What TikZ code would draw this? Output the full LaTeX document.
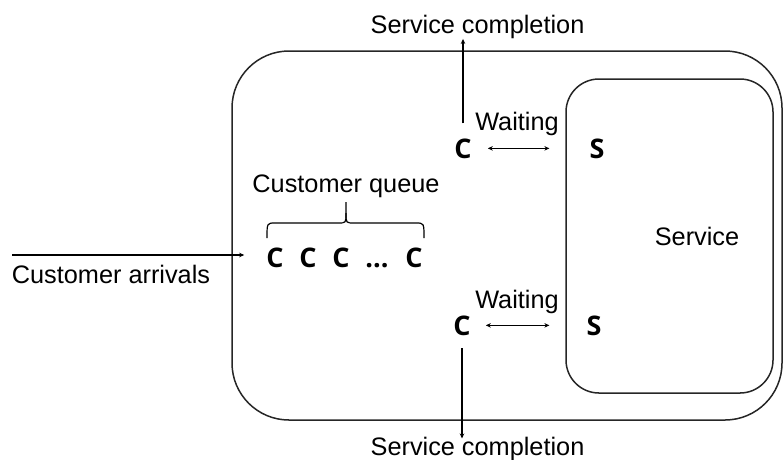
\documentclass[tikz,border=0pt]{standalone}
\usepackage{fontspec}
\setmainfont{Liberation Sans}
\newfontfamily\cfont{Open Sans}
\usetikzlibrary{arrows.meta}
\tikzset{
  lbl/.style={font=\fontsize{25.3}{30}\selectfont, inner sep=0pt, anchor=base},
  letter/.style={font=\cfont\bfseries\fontsize{27}{32}\selectfont, inner sep=0pt, anchor=base},
  arr/.style={-{Stealth[length=5pt,width=4.5pt]}, line width=1.2pt},
  darr/.style={{Stealth[length=5pt,width=4.5pt]}-{Stealth[length=5pt,width=4.5pt]}, line width=1.2pt},
  frame/.style={line width=1.5pt, draw=black!85}
}
\begin{document}
\begin{tikzpicture}[x=1pt,y=-1pt]
\useasboundingbox (0,0) rectangle (783,459);
% boxes
\draw[frame, rounded corners=57pt] (232,51) rectangle (782,420);
\draw[frame, rounded corners=33pt] (566,79) rectangle (773,393);
% labels
\node[lbl] (sc1) at (477.5,33.5) {Service completion};
\node[lbl] (sc2) at (477.5,455) {Service completion};
\node[lbl] (arrl) at (111,283) {Customer arrivals};
\node[lbl] (cq) at (346,192) {Customer queue};
\node[lbl] (w1) at (517,130) {Waiting};
\node[lbl] (w2) at (517,308) {Waiting};
\node[lbl] (srv) at (697,245) {Service};
% letters
\node[letter] (q1) at (275,267) {C};
\node[letter] (q2) at (308,267) {C};
\node[letter] (q3) at (341,267) {C};
\node[letter] (qd) at (377,267) {...};
\node[letter] (q4) at (414,267) {C};
\node[letter] (c1) at (463,158) {C};
\node[letter] (s1) at (597,158) {S};
\node[letter] (c2) at (462,335) {C};
\node[letter] (s2) at (594,335) {S};
% brace
\draw[line width=1.2pt] (267,238) .. controls (267,223) .. (275,223) -- (338,223)
  .. controls (346,223) .. (346,213) -- (346,202);
\draw[line width=1.2pt] (346,213) .. controls (346,223) .. (354,223) -- (416,223)
  .. controls (424,223) .. (424,238);
% connectors
\coordinate (arrStart) at (12,255);
\draw[arr, shorten >=22pt] (arrStart) -- (arrStart -| q1.west);
\draw[arr, shorten <=15pt] (c1.north) -- (c1.north |- sc1.south);
\draw[arr, shorten <=13pt, shorten >=-2pt] (c2.south) -- (c2.south |- sc2.north);
\draw[darr, shorten <=16pt, shorten >=40pt] (c1.east) -- (s1.west);
\draw[darr, shorten <=15pt, shorten >=37pt] (c2.east) -- (s2.west);
\end{tikzpicture}
\end{document}
